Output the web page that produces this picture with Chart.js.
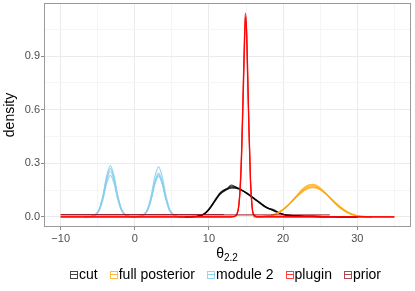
<!DOCTYPE html>
<html>
<head>
<meta charset="utf-8">
<script src="https://cdn.jsdelivr.net/npm/chart.js@4/dist/chart.umd.min.js"></script>
<style>
  body { margin: 0; background: #fff; }
  #wrap { position: relative; width: 415px; height: 291px; font-family: "Liberation Sans", Arial, sans-serif; }
  #xtitle { position: absolute; left: 44px; width: 366px; top: 245px; text-align: center; font-size: 14px; color: #000; }
  #xtitle sub { font-size: 10px; vertical-align: -3px; }
  #legend { position: absolute; left: 0; width: 451px; top: 266px; text-align: center; font-size: 14px; color: #000; white-space: nowrap; }
  .item { display: inline-block; margin: 0 6px; }
  .key { display: inline-block; width: 6px; height: 6px; border: 1.3px solid; margin-right: 1px; }
</style>
</head>
<body>
<div id="wrap">
  <canvas id="chart" width="415" height="291"></canvas>
  <div id="xtitle">θ<sub>2.2</sub></div>
  <div id="legend"></div>
</div>
<script>
// groups and colours
const groups = ['cut', 'full posterior', 'module 2', 'plugin', 'prior'];
const colors = ['rgba(0,0,0,0.72)', 'rgba(255,165,0,0.75)', 'rgba(135,206,235,0.85)', 'rgba(255,0,0,0.75)', 'rgba(150,10,20,0.75)'];

// axis ticks
const xTicks = [-10, 0, 10, 20, 30];
const yTicks = [0, 0.3, 0.6, 0.9];

// module 2 (four chains)
const moduleX = [-6.8, -6.3, -5.8, -5.3, -4.8, -4.3, -3.8, -3.3, -2.8, -2.3, -1.8, -1.3, -0.8, -0.05, 0.7, 1.2, 1.7, 2.2, 2.7, 3.2, 3.7, 4.2, 4.7, 5.2, 5.7, 6.2, 6.7];
const module2A = [0, 0.0003, 0.003, 0.013, 0.043, 0.120, 0.228, 0.285, 0.228, 0.120, 0.043, 0.013, 0.003, 0, 0.002, 0.011, 0.037, 0.103, 0.196, 0.245, 0.196, 0.103, 0.037, 0.011, 0.002, 0.0002, 0];
const module2B = [0, 0.0003, 0.003, 0.012, 0.041, 0.113, 0.216, 0.270, 0.216, 0.113, 0.041, 0.012, 0.003, 0, 0.003, 0.013, 0.042, 0.118, 0.224, 0.280, 0.224, 0.118, 0.042, 0.013, 0.003, 0.0003, 0];
const module2C = [0, 0.0003, 0.003, 0.012, 0.038, 0.107, 0.204, 0.255, 0.204, 0.107, 0.038, 0.012, 0.003, 0, 0.002, 0.011, 0.035, 0.099, 0.188, 0.235, 0.188, 0.099, 0.035, 0.011, 0.002, 0.0002, 0];
const module2D = [0, 0.0003, 0.002, 0.010, 0.035, 0.097, 0.186, 0.232, 0.186, 0.097, 0.035, 0.010, 0.002, 0, 0.002, 0.010, 0.034, 0.096, 0.182, 0.228, 0.182, 0.096, 0.034, 0.010, 0.002, 0.0002, 0];

// cut
const cutX = [6, 8, 8.5, 9, 9.5, 10, 10.5, 11, 11.5, 12, 12.5, 13, 13.5, 14, 14.5, 15, 15.5, 16, 16.5, 17, 17.5, 18, 18.5, 19, 19.5, 20, 21, 22, 23, 24, 26, 28, 30];
const cutA = [0, 0.001, 0.003, 0.009, 0.021, 0.042, 0.072, 0.103, 0.132, 0.148, 0.160, 0.178, 0.170, 0.158, 0.147, 0.134, 0.120, 0.105, 0.090, 0.074, 0.058, 0.046, 0.040, 0.031, 0.021, 0.014, 0.007, 0.004, 0.003, 0.002, 0.001, 0, 0];
const cutB = [0, 0.001, 0.003, 0.008, 0.019, 0.040, 0.068, 0.099, 0.126, 0.142, 0.156, 0.172, 0.168, 0.160, 0.149, 0.136, 0.121, 0.104, 0.088, 0.071, 0.056, 0.047, 0.044, 0.034, 0.022, 0.013, 0.007, 0.004, 0.003, 0.002, 0.001, 0, 0];
const cutC = [0, 0.002, 0.004, 0.010, 0.022, 0.044, 0.074, 0.106, 0.134, 0.150, 0.158, 0.165, 0.163, 0.157, 0.146, 0.133, 0.118, 0.103, 0.089, 0.075, 0.060, 0.048, 0.038, 0.029, 0.020, 0.014, 0.008, 0.005, 0.003, 0.002, 0.001, 0, 0];
const cutD = [0, 0.001, 0.003, 0.009, 0.020, 0.041, 0.070, 0.101, 0.128, 0.145, 0.154, 0.160, 0.161, 0.156, 0.147, 0.136, 0.122, 0.107, 0.091, 0.076, 0.061, 0.049, 0.039, 0.030, 0.021, 0.014, 0.008, 0.005, 0.003, 0.002, 0.001, 0, 0];

// full posterior
const fullX = [16, 17.5, 18, 18.5, 19, 19.5, 20, 20.5, 21, 21.5, 22, 22.5, 23, 23.5, 24, 24.5, 25, 25.5, 26, 26.5, 27, 27.5, 28, 28.5, 29, 29.5, 30, 31, 32];
const fullA = [0, 0.002, 0.004, 0.008, 0.014, 0.025, 0.039, 0.057, 0.079, 0.103, 0.127, 0.150, 0.168, 0.179, 0.182, 0.176, 0.162, 0.142, 0.120, 0.097, 0.075, 0.056, 0.040, 0.027, 0.017, 0.010, 0.005, 0.001, 0];
const fullB = [0, 0.002, 0.004, 0.008, 0.015, 0.026, 0.040, 0.058, 0.079, 0.101, 0.124, 0.145, 0.162, 0.172, 0.175, 0.170, 0.157, 0.139, 0.119, 0.098, 0.077, 0.058, 0.042, 0.029, 0.018, 0.011, 0.006, 0.001, 0];
const fullC = [0, 0.002, 0.005, 0.009, 0.016, 0.027, 0.041, 0.058, 0.078, 0.099, 0.120, 0.139, 0.155, 0.165, 0.168, 0.165, 0.154, 0.138, 0.120, 0.100, 0.080, 0.061, 0.045, 0.031, 0.020, 0.012, 0.006, 0.001, 0];
const fullD = [0, 0.002, 0.005, 0.010, 0.017, 0.028, 0.042, 0.059, 0.078, 0.098, 0.118, 0.136, 0.151, 0.160, 0.163, 0.161, 0.152, 0.138, 0.121, 0.102, 0.082, 0.064, 0.047, 0.033, 0.021, 0.013, 0.007, 0.002, 0];

// plugin
const pluginX = [-10, 13, 13.5, 13.8, 14, 14.2, 14.4, 14.6, 14.8, 14.9, 15, 15.1, 15.2, 15.4, 15.6, 15.8, 16, 16.5, 35];
const pluginA = [0, 0, 0.003, 0.020, 0.060, 0.170, 0.380, 0.700, 1.030, 1.140, 1.110, 0.980, 0.800, 0.460, 0.190, 0.060, 0.012, 0, 0];
const pluginB = [0, 0, 0.002, 0.015, 0.050, 0.140, 0.330, 0.630, 0.960, 1.070, 1.100, 1.020, 0.860, 0.510, 0.220, 0.070, 0.015, 0.001, 0];
const pluginC = [0, 0, 0.003, 0.018, 0.055, 0.155, 0.355, 0.670, 1.000, 1.110, 1.120, 1.010, 0.830, 0.480, 0.200, 0.065, 0.013, 0, 0];

// prior
const priorX1 = [-10, 12];
const priorA = [0.013, 0.013];
const priorX2 = [-10, 26.3];
const priorB = [0.011, 0.011];

function series(xs, ys, g) {
  return {
    label: groups[g],
    data: xs.map((x, i) => ({ x: x, y: ys[i] })),
    borderColor: colors[g],
    borderWidth: 1.2,
    pointRadius: 0,
    fill: false,
    cubicInterpolationMode: 'monotone'
  };
}

const datasets = [
  series(priorX1, priorA, 4), series(priorX2, priorB, 4),
  series(pluginX, pluginA, 3), series(pluginX, pluginB, 3), series(pluginX, pluginC, 3),
  series(moduleX, module2A, 2), series(moduleX, module2B, 2), series(moduleX, module2C, 2), series(moduleX, module2D, 2),
  series(fullX, fullA, 1), series(fullX, fullB, 1), series(fullX, fullC, 1), series(fullX, fullD, 1),
  series(cutX, cutA, 0), series(cutX, cutB, 0), series(cutX, cutC, 0), series(cutX, cutD, 0)
];

// minor gridlines sit half-way between the major ticks
const xAll = [];
xTicks.forEach(v => { xAll.push(v, v + 5); });
const yAll = [];
yTicks.forEach(v => { yAll.push(v, v + 0.15); });

const isMajor = (arr, v) => arr.some(t => Math.abs(t - v) < 1e-6);

const panelBorder = {
  id: 'panelBorder',
  afterDraw(chart) {
    const a = chart.chartArea, c = chart.ctx;
    c.save();
    c.strokeStyle = '#9a9a9a';
    c.lineWidth = 1;
    c.strokeRect(a.left + 0.5, a.top + 0.5, a.right - a.left - 1, a.bottom - a.top - 1);
    c.restore();
  }
};

const ctx = document.getElementById('chart').getContext('2d');
const chart = new Chart(ctx, {
  type: 'line',
  data: { datasets: datasets },
  plugins: [panelBorder],
  options: {
    responsive: false,
    animation: false,
    devicePixelRatio: 1,
    layout: { padding: { top: 3, right: 4, bottom: 40, left: 0 } },
    plugins: { legend: { display: false }, tooltip: { enabled: false } },
    scales: {
      x: {
        type: 'linear',
        min: -12.25,
        max: 37.25,
        afterBuildTicks: s => { s.ticks = xAll.map(v => ({ value: v })); },
        afterFit: s => { s.height = 24; s.paddingLeft = 0; s.paddingRight = 0; },
        ticks: {
          autoSkip: false,
          maxRotation: 0,
          padding: 2,
          color: '#4d4d4d',
          font: { family: 'Liberation Sans', size: 11 },
          callback: v => isMajor(xTicks, v) ? (v < 0 ? '\u2212' + Math.abs(v) : String(v)) : ''
        },
        grid: {
          color: c => isMajor(xTicks, c.tick.value) ? '#ebebeb' : '#f5f5f5',
          tickColor: c => isMajor(xTicks, c.tick.value) ? '#8a8a8a' : 'rgba(0,0,0,0)',
          tickLength: 3
        },
        border: { display: false }
      },
      y: {
        type: 'linear',
        min: -0.057,
        max: 1.197,
        afterBuildTicks: s => { s.ticks = yAll.map(v => ({ value: v })); },
        afterFit: s => { s.width = 44; s.paddingTop = 0; s.paddingBottom = 0; },
        ticks: {
          autoSkip: false,
          padding: 1,
          color: '#4d4d4d',
          font: { family: 'Liberation Sans', size: 11 },
          callback: v => isMajor(yTicks, v) ? v.toFixed(1) : ''
        },
        grid: {
          color: c => isMajor(yTicks, c.tick.value) ? '#ebebeb' : '#f5f5f5',
          tickColor: c => isMajor(yTicks, c.tick.value) ? '#8a8a8a' : 'rgba(0,0,0,0)',
          tickLength: 3
        },
        border: { display: false },
        title: {
          display: true,
          text: 'density',
          color: '#000',
          padding: { top: 2, bottom: 0 },
          font: { family: 'Liberation Sans', size: 14 }
        }
      }
    }
  }
});

// legend built from the groups
const legend = document.getElementById('legend');
groups.forEach((g, i) => {
  const item = document.createElement('span');
  item.className = 'item';
  const key = document.createElement('span');
  key.className = 'key';
  key.style.borderColor = colors[i];
  key.style.background = 'linear-gradient(' + colors[i] + ',' + colors[i] + ') center / 100% 1.2px no-repeat';
  item.appendChild(key);
  item.appendChild(document.createTextNode(g));
  legend.appendChild(item);
});
</script>
</body>
</html>
